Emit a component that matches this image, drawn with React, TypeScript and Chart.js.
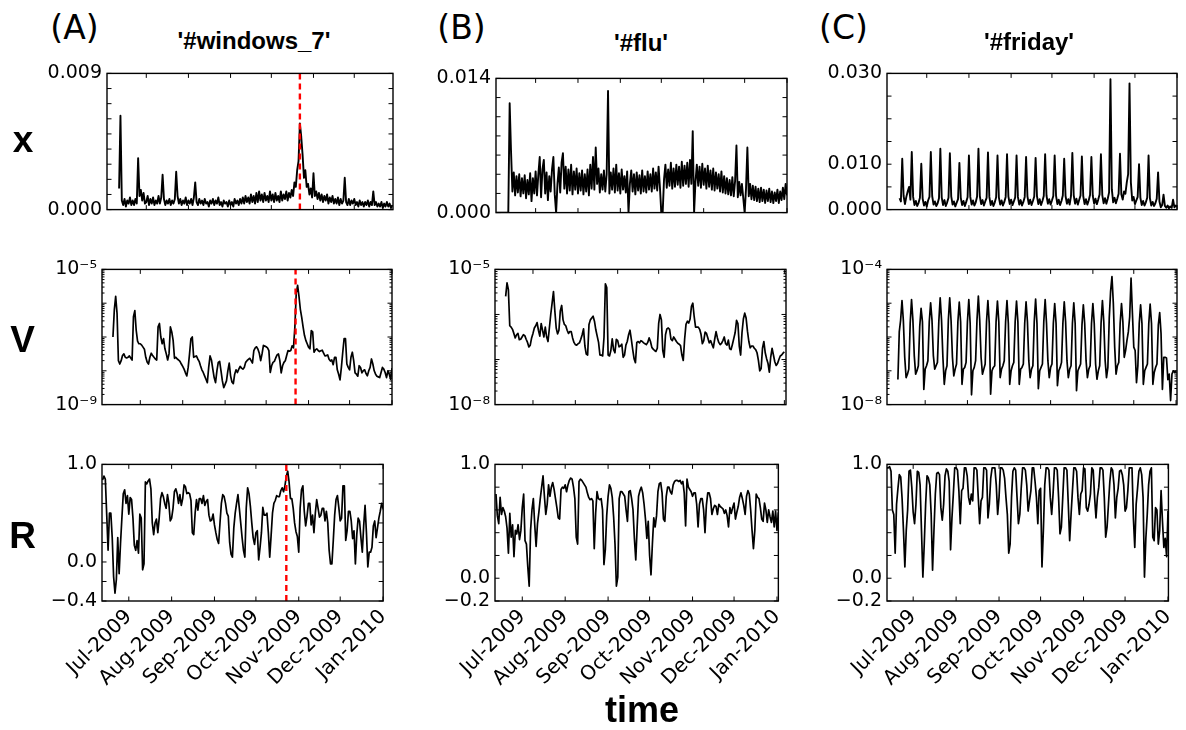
import React, { useEffect, useRef } from 'react';
import { Chart, registerables } from 'chart.js';

Chart.register(...registerables);

// ---------------- time axis (days since 1 Jul 2009) ----------------
const monthDays = [0, 31, 62, 92, 123, 153, 184];
const monthLabels = ['Jul-2009', 'Aug-2009', 'Sep-2009', 'Oct-2009', 'Nov-2009', 'Dec-2009', 'Jan-2010'];
// Windows 7 release (22 Oct 2009) as drawn in each row
const eventDayX = 113;
const eventDayV = 113.5;
const eventDayR = 114;

// ---------------- y ticks / labels ----------------
const xTicksWin7 = [0, 0.001, 0.002, 0.003, 0.004, 0.005, 0.006, 0.007, 0.008, 0.009];
const xLabelsWin7: [number, string][] = [[0, '0.000'], [0.009, '0.009']];
const xTicksFlu = [0, 0.002, 0.004, 0.006, 0.008, 0.01, 0.012, 0.014];
const xLabelsFlu: [number, string][] = [[0, '0.000'], [0.014, '0.014']];
const xTicksFriday = [0, 0.005, 0.01, 0.015, 0.02, 0.025, 0.03];
const xLabelsFriday: [number, string][] = [[0, '0.000'], [0.01, '0.010'], [0.03, '0.030']];
const vTicksWin7 = [1e-9, 1e-8, 1e-7, 1e-6, 1e-5];
const vLabelsWin7: [number, string][] = [[1e-5, '10\u207B\u2075'], [1e-9, '10\u207B\u2079']];
const vTicksFlu = [1e-8, 1e-7, 1e-6, 1e-5];
const vLabelsFlu: [number, string][] = [[1e-5, '10\u207B\u2075'], [1e-8, '10\u207B\u2078']];
const vTicksFriday = [1e-8, 1e-7, 1e-6, 1e-5, 1e-4];
const vLabelsFriday: [number, string][] = [[1e-4, '10\u207B\u2074'], [1e-8, '10\u207B\u2078']];
const rTicksWin7 = [-0.4, -0.2, 0, 0.2, 0.4, 0.6, 0.8, 1.0];
const rLabelsWin7: [number, string][] = [[1, '1.0'], [0, '0.0'], [-0.4, '\u22120.4']];
const rTicks = [-0.2, 0, 0.2, 0.4, 0.6, 0.8, 1.0];
const rLabels: [number, string][] = [[1, '1.0'], [0, '0.0'], [-0.2, '\u22120.2']];

// ---------------- series: x (daily values) ----------------
const xWin7Start = -20;
const xWin7 = [
  0.0014, 0.0062, 0.0006, 0.0003, 0.0007, 0.0002, 0.0006, 0.0004, 0.0008, 0.0003,
  0.0006, 0.0003, 0.0007, 0.0004, 0.0034, 0.0009, 0.0013, 0.0006, 0.0011, 0.0004,
  0.0005, 0.0009, 0.0003, 0.0007, 0.0004, 0.0008, 0.0003, 0.0006, 0.0004, 0.0009,
  0.0004, 0.0008, 0.0023, 0.0007, 0.0003, 0.0006, 0.0004, 0.0007, 0.0003, 0.0006,
  0.0004, 0.0007, 0.0025, 0.0009, 0.0004, 0.0007, 0.0003, 0.0006, 0.0004, 0.0008,
  0.0003, 0.0006, 0.0004, 0.0007, 0.0003, 0.0008, 0.0018, 0.0005, 0.0003, 0.0007,
  0.0004, 0.0006, 0.0003, 0.0007, 0.0004, 0.0005, 0.0002, 0.0006, 0.0004, 0.0007,
  0.0003, 0.0006, 0.0004, 0.0008, 0.0003, 0.0005, 0.0002, 0.0006, 0.0004, 0.0005,
  0.0002, 0.0006, 0.0003, 0.0005, 0.0002, 0.0007, 0.0004, 0.0006, 0.0003, 0.0007,
  0.0004, 0.0008, 0.0004, 0.0009, 0.0005, 0.0008, 0.0004, 0.0010, 0.0005, 0.0009,
  0.0004, 0.0011, 0.0005, 0.0012, 0.0006, 0.0010, 0.0005, 0.0011, 0.0006, 0.0009,
  0.0005, 0.0012, 0.0006, 0.0010, 0.0005, 0.0011, 0.0006, 0.0009, 0.0005, 0.0012,
  0.0006, 0.0010, 0.0007, 0.0012, 0.0006, 0.0011, 0.0008, 0.0013, 0.0009, 0.0018,
  0.0015, 0.0026, 0.0032, 0.0057, 0.0048, 0.0036, 0.0021, 0.0026, 0.0015, 0.0017,
  0.0010, 0.0014, 0.0008, 0.0024, 0.0009, 0.0012, 0.0007, 0.0011, 0.0006, 0.0010,
  0.0005, 0.0009, 0.0006, 0.0010, 0.0004, 0.0008, 0.0005, 0.0009, 0.0004, 0.0007,
  0.0004, 0.0008, 0.0003, 0.0007, 0.0004, 0.0006, 0.0021, 0.0005, 0.0003, 0.0007,
  0.0003, 0.0006, 0.0004, 0.0007, 0.0003, 0.0005, 0.0002, 0.0006, 0.0003, 0.0005,
  0.0002, 0.0005, 0.0003, 0.0006, 0.0002, 0.0005, 0.0003, 0.0012, 0.0003, 0.0005,
  0.0002, 0.0004, 0.0002, 0.0005, 0.0001, 0.0004, 0.0002, 0.0005, 0.0002, 0.0004,
  0.0001, 0.0003,
];

const xFluStart = -29;
const xFlu = [
  0, 0, 0, 0, 0, 0, 0, 0, 0, 0,
  0.0114, 0.0064, 0.0022, 0.0042, 0.0018, 0.0038, 0.0021, 0.0040, 0.0017, 0.0036,
  0.0020, 0.0039, 0.0015, 0.0034, 0.0019, 0.0041, 0.0012, 0.0036, 0.0020, 0.0043,
  0.0018, 0.0040, 0.0058, 0.0016, 0.0045, 0.0055, 0.0020, 0.0042, 0.0013, 0.0038,
  0.0022, 0.0045, 0.0058, 0.0019, 0, 0.0030, 0.0047, 0.0021, 0.0052, 0.0062,
  0.0025, 0.0048, 0.0020, 0.0045, 0.0023, 0.0050, 0.0019, 0.0043, 0.0024, 0.0046,
  0.0020, 0.0041, 0.0023, 0.0044, 0.0019, 0.0040, 0.0022, 0.0045, 0.0018, 0.0050,
  0.0025, 0.0058, 0.0024, 0.0068, 0.0030, 0.0046, 0.0021, 0.0040, 0.0024, 0.0044,
  0.0022, 0.0040, 0.0127, 0.0020, 0.0042, 0.0024, 0.0046, 0.0021, 0.0050, 0.0023,
  0.0041, 0.0020, 0.0045, 0.0024, 0.0038, 0.0021, 0.0043, 0, 0.0030, 0.0044,
  0.0022, 0.0040, 0.0019, 0.0042, 0.0023, 0.0039, 0.0020, 0.0044, 0.0022, 0.0038,
  0.0021, 0.0043, 0.0024, 0.0040, 0.0022, 0.0046, 0.0025, 0.0042, 0.0023, 0.0048,
  0.0026, 0, 0, 0.0035, 0.0050, 0.0026, 0.0045, 0.0028, 0.0052, 0.0025,
  0.0046, 0.0027, 0.0050, 0.0029, 0.0048, 0.0026, 0.0053, 0.0028, 0.0049, 0.0030,
  0.0052, 0.0027, 0.0055, 0.0030, 0.0085, 0, 0.0032, 0.0050, 0.0028, 0.0048,
  0.0026, 0.0051, 0.0029, 0.0046, 0.0025, 0.0049, 0.0027, 0.0044, 0.0024, 0.0046,
  0.0023, 0.0042, 0.0025, 0.0040, 0.0022, 0.0043, 0.0021, 0.0038, 0.0020, 0.0036,
  0.0019, 0.0034, 0.0018, 0.0037, 0.0017, 0.0033, 0.0070, 0.0016, 0.0032, 0.0018,
  0.0030, 0.0015, 0, 0.0025, 0.0068, 0.0017, 0.0030, 0.0014, 0.0028, 0.0013,
  0.0027, 0.0012, 0.0025, 0.0011, 0.0026, 0.0012, 0.0024, 0.0010, 0.0023, 0.0012,
  0.0025, 0.0011, 0.0022, 0.0010, 0.0021, 0.0012, 0.0024, 0.0010, 0.0022, 0.0013,
  0.0026, 0.0014, 0.0030, 0.0018,
];

const xFridayStart = -20;
const xFriday = [
  0.0025, 0.0018, 0.0112, 0.0030, 0.0012, 0.0028, 0.0040, 0.0050, 0.0022, 0.0127,
  0.0028, 0.0010, 0.0019, 0.0008, 0.0015, 0.0026, 0.0101, 0.0024, 0.0009, 0.0017,
  0.0007, 0.0020, 0.0028, 0.0127, 0.0030, 0.0011, 0.0018, 0.0008, 0.0014, 0.0025,
  0.0134, 0.0027, 0.0010, 0.0021, 0.0008, 0.0016, 0.0026, 0.0124, 0.0029, 0.0011,
  0.0018, 0.0007, 0.0015, 0.0023, 0.0103, 0.0026, 0.0010, 0.0019, 0.0008, 0.0017,
  0.0027, 0.0119, 0.0028, 0.0011, 0.0020, 0.0009, 0.0016, 0.0029, 0.0134, 0.0030,
  0.0012, 0.0021, 0.0009, 0.0018, 0.0026, 0.0126, 0.0028, 0.0010, 0.0019, 0.0008,
  0.0016, 0.0027, 0.0119, 0.0027, 0.0011, 0.0020, 0.0009, 0.0017, 0.0028, 0.0122,
  0.0029, 0.0012, 0.0022, 0.0010, 0.0018, 0.0027, 0.0119, 0.0028, 0.0011, 0.0021,
  0.0009, 0.0017, 0.0028, 0.0116, 0.0029, 0.0012, 0.0022, 0.0010, 0.0019, 0.0029,
  0.0114, 0.0030, 0.0012, 0.0023, 0.0010, 0.0019, 0.0030, 0.0122, 0.0031, 0.0013,
  0.0023, 0.0011, 0.0020, 0.0030, 0.0119, 0.0031, 0.0012, 0.0022, 0.0010, 0.0019,
  0.0031, 0.0112, 0.0030, 0.0013, 0.0023, 0.0011, 0.0030, 0.0125, 0.0032, 0.0013,
  0.0024, 0.0011, 0.0021, 0.0031, 0.0117, 0.0030, 0.0012, 0.0023, 0.0011, 0.0020,
  0.0032, 0.0116, 0.0031, 0.0013, 0.0024, 0.0012, 0.0022, 0.0033, 0.0122, 0.0032,
  0.0014, 0.0025, 0.0013, 0.0024, 0.0038, 0.0287, 0.0045, 0.0016, 0.0026, 0.0014,
  0.0024, 0.0035, 0.0123, 0.0034, 0.0022, 0.0040, 0.0035, 0.0060, 0.0078, 0.0278,
  0.0060, 0.0020, 0.0028, 0.0012, 0.0020, 0.0028, 0.0100, 0.0026, 0.0010, 0.0019,
  0.0009, 0.0016, 0.0026, 0.0119, 0.0025, 0.0009, 0.0017, 0.0008, 0.0014, 0.0024,
  0.0082, 0.0018, 0.0005, 0.0010, 0.0033, 0.0008, 0.0004, 0.0009, 0.0003, 0.0007,
  0.0004, 0.0022, 0.0005, 0.0009, 0.0006,
];

// ---------------- series: V (log10 of daily values) ----------------
const vWin7Start = -20;
const vWin7Log10 = [
  -7.0, -6.2, -5.8, -6.3, -7.7, -7.8, -7.7, -7.55, -7.5, -7.6,
  -7.62, -7.6, -7.56, -7.62, -7.68, -6.4, -6.22, -6.8, -7.12, -7.2,
  -7.2, -7.24, -7.3, -7.36, -7.6, -7.74, -7.8, -7.6, -7.48, -7.55,
  -7.6, -7.65, -7.68, -6.7, -6.6, -7.0, -7.2, -7.05, -7.35, -7.5,
  -7.68, -7.5, -6.7, -6.85, -7.1, -7.63, -7.6, -7.65, -7.68, -7.72,
  -7.8, -7.87, -7.95, -8.06, -8.15, -7.9, -7.5, -7.05, -7.0, -7.6,
  -7.58, -7.56, -7.65, -7.72, -7.85, -7.97, -8.05, -8.15, -8.25, -8.35,
  -7.9, -7.56, -7.68, -7.95, -8.2, -8.35, -8.0, -7.75, -7.72, -8.0,
  -8.3, -8.5, -8.4, -8.3, -8.0, -7.77, -8.15, -8.33, -8.38, -8.1,
  -7.97, -8.05, -7.95, -7.87, -7.92, -7.95, -7.9, -7.75, -7.7, -7.66,
  -7.63, -7.7, -7.77, -7.4, -7.32, -7.29, -7.36, -7.48, -7.7, -7.5,
  -7.25, -7.27, -7.29, -7.32, -7.4, -8.05, -7.85, -7.75, -7.72, -7.62,
  -7.53, -7.5, -7.7, -8.06, -7.85, -7.75, -7.7, -7.55, -7.4, -7.42,
  -7.4, -7.26, -7.32, -6.7, -5.7, -5.47, -5.8, -6.18, -6.42, -6.7,
  -6.95, -7.1, -7.2, -7.3, -7.35, -6.81, -6.85, -7.45, -7.38, -7.35,
  -7.4, -7.43, -7.41, -7.39, -7.48, -7.56, -7.55, -7.53, -7.66, -7.71,
  -7.68, -7.82, -7.6, -7.6, -7.97, -8.1, -8.27, -7.9, -7.45, -7.05,
  -7.05, -7.8, -7.9, -7.97, -7.6, -7.45, -7.7, -8.06, -8.1, -8.16,
  -7.85, -7.9, -8.06, -8.0, -7.97, -8.08, -8.15, -8.0, -7.9, -7.65,
  -7.8, -8.0, -8.1, -8.16, -8.18, -8.2, -8.05, -7.9, -7.95, -8.05,
  -8.2, -8.0, -8.1, -8.25, -7.92,
];

const vFluStart = -20;
const vFluLog10 = [
  -5.6, -5.3, -5.45, -6.25, -6.28, -6.33, -6.42, -6.52, -6.45, -6.42,
  -6.56, -6.55, -6.5, -6.45, -6.47, -6.55, -6.62, -6.72, -6.68, -6.52,
  -6.42, -6.3, -6.25, -6.18, -6.35, -6.48, -6.2, -6.35, -6.5, -6.28,
  -6.5, -6.6, -6.3, -6.0, -5.75, -5.49, -5.92, -6.3, -6.43, -6.35,
  -5.92, -5.8, -6.12, -6.22, -6.25, -6.35, -6.42, -6.38, -6.38, -6.52,
  -6.62, -6.67, -6.68, -6.65, -6.63, -6.55, -6.45, -6.32, -6.7, -6.88,
  -6.9, -6.22, -6.12, -6.08, -6.04, -6.15, -6.34, -6.48, -6.62, -6.9,
  -6.9, -6.92, -6.5, -5.32, -5.4, -6.9, -6.92, -6.8, -6.54, -6.78,
  -6.85, -6.55, -6.58, -6.72, -6.7, -6.66, -6.95, -6.9, -6.68, -6.6,
  -6.45, -6.35, -6.55, -6.78, -6.98, -7.07, -6.62, -6.6, -6.63, -6.58,
  -6.6, -6.63, -6.65, -6.67, -6.62, -6.52, -6.6, -6.73, -6.77, -6.8,
  -6.82, -6.75, -6.2, -6.0, -6.12, -6.8, -6.95, -6.45, -6.32, -6.3,
  -6.33, -6.55, -6.58, -6.5, -6.55, -6.6, -6.64, -6.66, -6.69, -6.9,
  -7.02, -6.55, -6.22, -6.15, -6.19, -6.1, -5.82, -5.75, -6.05, -6.28,
  -6.28, -6.28, -6.33, -6.44, -6.65, -6.58, -6.39, -6.42, -6.52, -6.63,
  -6.58, -6.66, -6.74, -6.55, -6.38, -6.52, -6.62, -6.67, -6.64, -6.58,
  -6.5, -6.65, -6.68, -6.57, -6.76, -6.78, -6.66, -6.53, -6.4, -6.13,
  -6.2, -6.7, -6.9, -6.4, -6.1, -5.97, -6.08, -6.37, -6.6, -6.74,
  -6.7, -6.7, -6.75, -6.78, -6.85, -7.02, -7.25, -7.2, -6.75, -6.6,
  -6.85, -6.98, -7.08, -7.28, -6.95, -6.75, -6.9, -7.05, -7.13, -7.09,
  -7.0, -6.92, -6.9, -6.86, -6.83,
];

const vFridayStart = -20;
const vFridayLog10 = [
  -7.26, -5.85, -5.5, -4.92, -5.52, -6.6, -7.2, -7.1, -6.95, -5.6,
  -4.89, -5.5, -6.55, -7.1, -7.0, -6.85, -5.7, -5.15, -5.55, -7.55,
  -6.95, -6.85, -6.7, -5.55, -4.99, -5.5, -6.55, -6.95, -6.85, -6.75,
  -5.55, -4.84, -5.5, -6.6, -7.4, -7.0, -6.85, -5.5, -4.84, -5.52,
  -6.6, -7.15, -6.95, -6.8, -5.55, -4.97, -5.55, -7.4, -6.95, -6.9,
  -6.75, -5.55, -4.89, -5.6, -7.71, -7.0, -6.9, -6.7, -5.5, -4.79,
  -5.5, -6.6, -7.1, -6.95, -6.8, -5.55, -4.92, -5.6, -7.69, -7.0,
  -6.9, -6.85, -5.55, -4.94, -5.55, -7.2, -6.95, -6.85, -6.7, -5.55,
  -4.92, -5.6, -7.4, -7.0, -6.85, -6.75, -5.55, -4.94, -5.55, -7.4,
  -6.95, -6.9, -6.8, -5.6, -4.96, -5.55, -6.7, -7.2, -6.95, -6.85,
  -5.55, -4.88, -5.6, -7.53, -7.0, -6.9, -6.8, -5.55, -4.89, -5.6,
  -6.7, -7.2, -6.9, -6.8, -5.6, -5.01, -5.6, -7.44, -7.0, -6.9,
  -6.75, -5.6, -4.96, -5.55, -6.7, -7.2, -6.95, -6.85, -5.6, -4.99,
  -5.6, -7.59, -7.0, -6.9, -6.8, -5.65, -5.05, -5.6, -6.7, -7.2,
  -6.95, -6.85, -5.6, -5.01, -5.6, -6.8, -7.25, -7.0, -6.85, -5.6,
  -4.92, -5.55, -6.7, -7.2, -6.9, -5.45, -4.65, -4.21, -5.0, -6.3,
  -7.1, -6.85, -6.75, -5.6, -5.01, -5.55, -6.6, -6.4, -6.1, -5.85,
  -5.4, -4.26, -5.3, -6.3, -6.4, -7.35, -6.85, -5.6, -5.05, -5.6,
  -7.4, -7.0, -6.9, -6.8, -5.6, -5.03, -5.6, -7.4, -7.05, -6.9,
  -6.8, -5.65, -5.28, -5.9, -7.55, -6.6, -6.6, -6.62, -7.26, -7.1,
  -7.88, -7.1, -7.0, -7.05, -7.0,
];

// ---------------- series: R (daily values) ----------------
const rWin7Start = -19;
const rWin7 = [
  0.84, 0.88, 0.85, 0.49, 0.12, 0.5, 0.5, 0.25, -0.15, -0.32,
  -0.18, 0.25, -0.12, 0.19, 0.45, 0.7, 0.74, 0.6, 0.68, 0.49,
  0.66, 0.64, 0.45, 0.17, 0.12, 0.22, 0.09, 0.49, 0.45, -0.08,
  -0.02, 0.82, 0.8, 0.83, 0.85, 0.75, 0.4, 0.28, 0.4, 0.44,
  0.3, 0.45, 0.65, 0.71, 0.67, 0.6, 0.55, 0.69, 0.6, 0.42,
  0.45, 0.55, 0.72, 0.75, 0.7, 0.6, 0.69, 0.58, 0.65, 0.79,
  0.77, 0.7, 0.71, 0.7, 0.63, 0.3, 0.28, 0.5, 0.64, 0.53,
  0.65, 0.65, 0.6, 0.68, 0.58, 0.62, 0.64, 0.48, 0.42, 0.43,
  0.49, 0.38, 0.3, 0.23, 0.19, 0.4, 0.6, 0.69, 0.67, 0.6,
  0.5, 0.47, 0.2, 0.08, 0.05, 0.35, 0.5, 0.6, 0.69, 0.55,
  0.4, 0.25, 0.12, 0.05, 0.55, 0.76, 0.7, 0.57, 0.4, 0.25,
  0.18, 0.3, 0.32, 0.02, 0.15, 0.3, 0.56, 0.48, 0.48, 0.5,
  0.3, 0.05, 0.27, 0.5, 0.6, 0.63, 0.68, 0.67, 0.67, 0.73,
  0.76, 0.72, 0.78, 0.88, 0.93, 0.82, 0.65, 0.65, 0.55, 0.4,
  0.31, 0.26, 0.1, 0.55, 0.74, 0.78, 0.52, 0.37, 0.47, 0.6,
  0.6, 0.38, 0.48, 0.3, 0.5, 0.64, 0.55, 0.46, 0.48, 0.55,
  0.55, 0.42, 0.52, 0.4, 0.12, -0.02, -0.02, 0.22, 0.48, 0.64,
  0.68, 0.56, 0.42, 0.45, 0.78, 0.78, 0.22, 0.32, 0.52, 0.52,
  0.42, 0.24, 0.32, -0.02, 0.28, 0.45, 0.42, 0.25, 0.1, 0.37,
  0.58, 0.3, -0.05, 0.1, 0.1, 0.15, 0.37, 0.42, 0.25, 0.35,
  0.45, 0.52, 0.6, 0.55, 0.52,
];

const rFluStart = -19;
const rFlu = [
  0.74, 0.55, 0.48, 0.71, 0.56, 0.62, 0.59, 0.54, 0.44, 0.22,
  0.57, 0.36, 0.47, 0.19, 0.42, 0.39, 0.47, 0.34, 0.42, 0.62,
  0.74, 0.33, 0.3, 0.1, -0.07, 0.42, 0.6, 0.7, 0.47, 0.28,
  0.48, 0.58, 0.7, 0.8, 0.9, 0.72, 0.56, 0.65, 0.82, 0.72,
  0.8, 0.84, 0.78, 0.7, 0.62, 0.53, 0.52, 0.78, 0.8, 0.79,
  0.82, 0.76, 0.82, 0.86, 0.88, 0.87, 0.8, 0.7, 0.36, 0.3,
  0.85, 0.87, 0.86, 0.84, 0.82, 0.8, 0.75, 0.71, 0.69, 0.7,
  0.68, 0.26, 0.57, 0.76, 0.7, 0.69, 0.7, 0.6, 0.12, 0.25,
  0.55, 0.72, 0.82, 0.79, 0.71, 0.54, 0.3, -0.07, 0.01, 0.7,
  0.76, 0.76, 0.74, 0.72, 0.6, 0.5, 0.76, 0.77, 0.7, 0.6,
  0.35, 0.16, 0.45, 0.72, 0.77, 0.8, 0.75, 0.65, 0.52, 0.35,
  0.5, 0.2, 0.03, 0.3, 0.53, 0.45, 0.55, 0.76, 0.83, 0.84,
  0.75, 0.52, 0.5, 0.72, 0.8, 0.8, 0.76, 0.74, 0.82, 0.85,
  0.86, 0.86, 0.85, 0.86, 0.83, 0.85, 0.75, 0.46, 0.87, 0.8,
  0.78, 0.76, 0.72, 0.75, 0.75, 0.65, 0.45, 0.65, 0.7, 0.7,
  0.6, 0.4, 0.64, 0.75, 0.75, 0.7, 0.56, 0.61, 0.64, 0.63,
  0.56, 0.65, 0.63, 0.62, 0.61, 0.57, 0.6, 0.55, 0.45, 0.62,
  0.57, 0.62, 0.66, 0.52, 0.58, 0.63, 0.71, 0.75, 0.7, 0.64,
  0.56, 0.72, 0.77, 0.74, 0.6, 0.42, 0.26, 0.42, 0.74, 0.71,
  0.7, 0.62, 0.52, 0.5, 0.66, 0.6, 0.49, 0.6, 0.54, 0.49,
  0.59, 0.45, 0.59, 0.42, 0.58,
];

const rFridayStart = -19;
const rFriday = [
  0.97, 0.97, 0.98, 0.94, 0.6, 0.56, 0.22, 0.65, 0.79, 0.91,
  0.89, 0.7, 0.42, 0.1, 0.42, 0.6, 0.94, 0.95, 0.8, 0.58,
  0.48, 0.65, 0.94, 0.93, 0.82, 0.42, 0.01, 0.3, 0.65, 0.9,
  0.88, 0.82, 0.56, 0.07, 0.42, 0.74, 0.92, 0.93, 0.91, 0.62,
  0.51, 0.65, 0.9, 0.96, 0.94, 0.85, 0.25, 0.53, 0.74, 0.97,
  0.97, 0.95, 0.77, 0.48, 0.77, 0.79, 0.97, 0.97, 0.9, 0.71,
  0.65, 0.74, 0.68, 0.97, 0.97, 0.95, 0.71, 0.48, 0.68, 0.71,
  0.97, 0.97, 0.95, 0.53, 0.65, 0.88, 0.97, 0.97, 0.97, 0.82,
  0.56, 0.71, 0.97, 0.97, 0.95, 0.88, 0.71, 0.56, 0.22, 0.3,
  0.71, 0.94, 0.97, 0.95, 0.71, 0.48, 0.56, 0.79, 0.97, 0.97,
  0.95, 0.82, 0.59, 0.68, 0.77, 0.97, 0.97, 0.85, 0.71, 0.48,
  0.77, 0.79, 0.1, 0.42, 0.82, 0.97, 0.97, 0.95, 0.71, 0.56,
  0.74, 0.97, 0.97, 0.95, 0.71, 0.39, 0.45, 0.71, 0.97, 0.97,
  0.95, 0.65, 0.33, 0.56, 0.77, 0.97, 0.97, 0.94, 0.71, 0.56,
  0.74, 0.77, 0.97, 0.96, 0.62, 0.59, 0.65, 0.74, 0.97, 0.95,
  0.71, 0.53, 0.71, 0.8, 0.97, 0.97, 0.95, 0.71, 0.36, 0.45,
  0.65, 0.85, 0.97, 0.95, 0.82, 0.53, 0.71, 0.79, 0.94, 0.95,
  0.91, 0.82, 0.59, 0.62, 0.77, 0.97, 0.97, 0.97, 0.53, 0.27,
  0.65, 0.79, 0.94, 0.97, 0.91, 0.71, 0.01, 0.35, 0.56, 0.82,
  0.94, 0.97, 0.36, 0.33, 0.62, 0.6, 0.3, 0.42, 0.77, 0.5,
  0.27, 0.35, 0.19, 0.59,
];

// ---------------- panel layout ----------------
type Panel = {
  id: string;
  left: number; top: number; w: number; h: number;
  xMin: number; xMax: number;
  log: boolean; yMin: number; yMax: number;
  yTicks: number[]; yLabels: [number, string][];
  start: number; values: number[];
  redX?: number; showX: boolean; lw: number;
};

const panels: Panel[] = [
  { id: 'xa', left: 107, top: 72, w: 286, h: 139, xMin: -28.9, xMax: 181.5, log: false, yMin: 0, yMax: 0.009, yTicks: xTicksWin7, yLabels: xLabelsWin7, start: xWin7Start, values: xWin7, redX: eventDayX, showX: false, lw: 1.9 },
  { id: 'xb', left: 496, top: 77, w: 291, h: 137, xMin: -29, xMax: 184, log: false, yMin: 0, yMax: 0.014, yTicks: xTicksFlu, yLabels: xLabelsFlu, start: xFluStart, values: xFlu, showX: false, lw: 1.9 },
  { id: 'xc', left: 887, top: 72, w: 290, h: 139, xMin: -29.2, xMax: 183.9, log: false, yMin: 0, yMax: 0.03, yTicks: xTicksFriday, yLabels: xLabelsFriday, start: xFridayStart, values: xFriday, showX: false, lw: 1.9 },
  { id: 'va', left: 102, top: 268, w: 290, h: 138, xMin: -28, xMax: 184, log: true, yMin: 1e-9, yMax: 1e-5, yTicks: vTicksWin7, yLabels: vLabelsWin7, start: vWin7Start, values: vWin7Log10, redX: eventDayV, showX: false, lw: 1.7 },
  { id: 'vb', left: 495, top: 268, w: 291, h: 138, xMin: -27.8, xMax: 185.2, log: true, yMin: 1e-8, yMax: 1e-5, yTicks: vTicksFlu, yLabels: vLabelsFlu, start: vFluStart, values: vFluLog10, showX: false, lw: 1.7 },
  { id: 'vc', left: 887, top: 268, w: 290, h: 138, xMin: -28, xMax: 184.7, log: true, yMin: 1e-8, yMax: 1e-4, yTicks: vTicksFriday, yLabels: vLabelsFriday, start: vFridayStart, values: vFridayLog10, showX: false, lw: 1.7 },
  { id: 'ra', left: 102, top: 463, w: 290, h: 138, xMin: -19.4, xMax: 184.1, log: false, yMin: -0.4, yMax: 1.0, yTicks: rTicksWin7, yLabels: rLabelsWin7, start: rWin7Start, values: rWin7, redX: eventDayR, showX: true, lw: 1.7 },
  { id: 'rb', left: 495, top: 463, w: 291, h: 138, xMin: -19.7, xMax: 185, log: false, yMin: -0.2, yMax: 1.0, yTicks: rTicks, yLabels: rLabels, start: rFluStart, values: rFlu, showX: true, lw: 1.7 },
  { id: 'rc', left: 887, top: 463, w: 290, h: 138, xMin: -18.9, xMax: 184.3, log: false, yMin: -0.2, yMax: 1.0, yTicks: rTicks, yLabels: rLabels, start: rFridayStart, values: rFriday, showX: true, lw: 1.7 },
];

const texts = [
  { t: '(A)', x: 74.5, y: 27, size: 33, bold: false, family: 'DejaVu Sans' },
  { t: '(B)', x: 461.5, y: 27, size: 33, bold: false, family: 'DejaVu Sans' },
  { t: '(C)', x: 843.5, y: 27, size: 33, bold: false, family: 'DejaVu Sans' },
  { t: "'#windows_7'", x: 254, y: 41, size: 24, bold: true, family: 'Liberation Sans' },
  { t: "'#flu'", x: 641, y: 43, size: 24, bold: true, family: 'Liberation Sans' },
  { t: "'#friday'", x: 1029, y: 42, size: 24, bold: true, family: 'Liberation Sans' },
  { t: 'x', x: 23, y: 138.5, size: 37, bold: true, family: 'Liberation Sans' },
  { t: 'V', x: 22.5, y: 338.5, size: 37, bold: true, family: 'Liberation Sans' },
  { t: 'R', x: 22.5, y: 535, size: 37, bold: true, family: 'Liberation Sans' },
  { t: 'time', x: 642, y: 710, size: 36, bold: true, family: 'Liberation Sans' },
];

const PAD_L = 90;
const PAD_T = 15;
const PAD_R = 12;
const PAD_B = 15;
const X_AXIS_H = 90;

function findLabel(list: [number, string][], v: number, log: boolean): string {
  for (const [tv, t] of list) {
    if (log ? Math.abs(Math.log10(tv) - Math.log10(v)) < 1e-6 : Math.abs(tv - v) < 1e-9) return t;
  }
  return '';
}

function framePlugin(p: Panel) {
  return {
    id: 'frameTicks' + p.id,
    afterDraw(chart: any) {
      const { ctx, chartArea: a, scales } = chart;
      const xs = scales.x;
      const ys = scales.y;
      const major = 4.5;
      const minor = 2.5;
      ctx.save();
      ctx.strokeStyle = '#000';
      ctx.lineWidth = 1;
      ctx.beginPath();
      for (const d of monthDays) {
        const px = xs.getPixelForValue(d);
        if (px < a.left - 0.5 || px > a.right + 0.5) continue;
        ctx.moveTo(px, a.bottom); ctx.lineTo(px, a.bottom - major);
        ctx.moveTo(px, a.top); ctx.lineTo(px, a.top + major);
      }
      for (const v of p.yTicks) {
        const py = ys.getPixelForValue(v);
        ctx.moveTo(a.left, py); ctx.lineTo(a.left + major, py);
        ctx.moveTo(a.right, py); ctx.lineTo(a.right - major, py);
      }
      if (p.log) {
        const k0 = Math.round(Math.log10(p.yMin));
        const k1 = Math.round(Math.log10(p.yMax));
        for (let k = k0; k < k1; k++) {
          for (let m = 2; m <= 9; m++) {
            const py = ys.getPixelForValue(m * Math.pow(10, k));
            ctx.moveTo(a.left, py); ctx.lineTo(a.left + minor, py);
            ctx.moveTo(a.right, py); ctx.lineTo(a.right - minor, py);
          }
        }
      }
      ctx.stroke();
      ctx.lineWidth = 1.4;
      ctx.strokeRect(a.left, a.top, a.right - a.left, a.bottom - a.top);
      ctx.restore();
    },
  };
}

function PanelChart({ p }: { p: Panel }) {
  const ref = useRef<HTMLCanvasElement | null>(null);
  const cw = p.w + PAD_L + PAD_R;
  const ch = p.h + PAD_T + (p.showX ? X_AXIS_H : PAD_B);

  useEffect(() => {
    const canvas = ref.current;
    if (!canvas) return;
    const series = p.values.map((v, i) => ({ x: p.start + i, y: p.log ? Math.pow(10, v) : v }));
    const datasets: any[] = [
      { data: series, borderColor: '#000', borderWidth: p.lw, pointRadius: 0, borderJoinStyle: 'round', tension: 0, order: 1 },
    ];
    if (p.redX !== undefined) {
      datasets.push({
        data: [{ x: p.redX, y: p.yMin }, { x: p.redX, y: p.yMax }],
        borderColor: '#ff0000', borderWidth: 2.4, borderDash: [6, 4], pointRadius: 0, order: 0,
      });
    }
    const chart = new Chart(canvas, {
      type: 'line',
      data: { datasets },
      options: {
        animation: false,
        responsive: false,
        events: [],
        layout: { padding: { left: 0, top: PAD_T, right: PAD_R, bottom: p.showX ? 0 : PAD_B } },
        plugins: { legend: { display: false }, tooltip: { enabled: false } },
        scales: {
          x: {
            type: 'linear',
            min: p.xMin,
            max: p.xMax,
            display: p.showX,
            grid: { display: false, drawTicks: false },
            border: { display: false },
            afterBuildTicks: (s: any) => { s.ticks = monthDays.map((v) => ({ value: v })); },
            afterFit: (s: any) => { s.height = p.showX ? X_AXIS_H : 0; },
            ticks: {
              autoSkip: false,
              minRotation: 45,
              maxRotation: 45,
              padding: 4,
              color: '#000',
              font: { family: 'DejaVu Sans', size: 20 },
              callback: (v: any) => { const i = monthDays.indexOf(Number(v)); return i >= 0 ? monthLabels[i] : ''; },
            },
          },
          y: {
            type: p.log ? 'logarithmic' : 'linear',
            min: p.yMin,
            max: p.yMax,
            grid: { display: false, drawTicks: false },
            border: { display: false },
            afterBuildTicks: (s: any) => { s.ticks = p.yLabels.map(([v]) => ({ value: v })); },
            afterFit: (s: any) => { s.width = PAD_L; },
            ticks: {
              autoSkip: false,
              padding: 5,
              color: '#000',
              font: { family: 'DejaVu Sans', size: 19 },
              callback: (v: any) => findLabel(p.yLabels, Number(v), p.log),
            },
          },
        },
      } as any,
      plugins: [framePlugin(p)],
    } as any);
    return () => chart.destroy();
  }, [p]);

  return (
    <canvas
      ref={ref}
      width={cw}
      height={ch}
      style={{ position: 'absolute', left: p.left - PAD_L, top: p.top - PAD_T, width: cw, height: ch }}
    />
  );
}

export default function App() {
  return (
    <div style={{ position: 'fixed', left: 0, top: 0, width: 1186, height: 730, background: '#fff', overflow: 'hidden' }}>
      {panels.map((p) => (
        <PanelChart key={p.id} p={p} />
      ))}
      {texts.map((t, i) => (
        <div
          key={i}
          style={{
            position: 'absolute', left: t.x, top: t.y, transform: 'translate(-50%, -50%)',
            fontFamily: t.family, fontSize: t.size, fontWeight: t.bold ? 'bold' : 'normal',
            lineHeight: 1, whiteSpace: 'nowrap', color: '#000',
          }}
        >
          {t.t}
        </div>
      ))}
    </div>
  );
}
